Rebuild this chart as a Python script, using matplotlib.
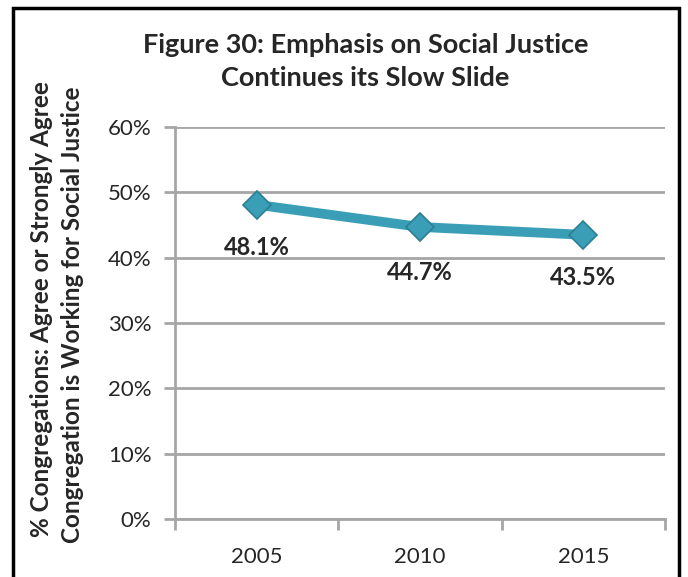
import numpy as np
import matplotlib.pyplot as plt
from matplotlib.patches import Rectangle

plt.rcParams['font.family'] = ['Lato', 'DejaVu Sans']

# data
years = ['2005', '2010', '2015']
pct = [48.1, 44.7, 43.5]
labels = ['48.1%', '44.7%', '43.5%']
yticks = [0, 10, 20, 30, 40, 50, 60]

line_col = '#3a9fb6'
grid_col = '#a6a6a6'
txt_col = '#262626'

fig = plt.figure(figsize=(6.88, 5.77), dpi=100)
ax = fig.add_axes([0.2544, 0.1005, 0.7122, 0.6794])

x = np.arange(len(years))
ax.plot(x, pct, color=line_col, lw=7, solid_capstyle='round', zorder=3)
ax.plot(x, pct, linestyle='none', marker='D', markersize=14,
        markerfacecolor=line_col, markeredgecolor='#2b7f92', markeredgewidth=1.2, zorder=4)

# data labels under the points
offs = [-6.6, -6.9, -6.6]
for xi, v, lab, o in zip(x, pct, labels, offs):
    ax.text(xi, v + o, lab, ha='center', va='center', fontsize=17,
            fontweight='bold', color=txt_col, zorder=5)

ax.set_xlim(-0.5, 2.5)
ax.set_ylim(0, 60)
ax.set_yticks(yticks)
ax.set_yticklabels([f'{t}%' for t in yticks], fontsize=16, color=txt_col)
ax.set_xticks(x)
ax.set_xticklabels(years, fontsize=16, color=txt_col)
ax.tick_params(axis='x', length=0, pad=20)
ax.tick_params(axis='y', length=8, width=2, color=grid_col, pad=9)

# minor ticks at category boundaries
ax.set_xticks([-0.5, 0.5, 1.5, 2.5], minor=True)
ax.tick_params(axis='x', which='minor', length=8, width=2, color=grid_col)

ax.grid(axis='y', color=grid_col, lw=2)
ax.set_axisbelow(True)
for s in ['top', 'right']:
    ax.spines[s].set_visible(False)
for s in ['left', 'bottom']:
    ax.spines[s].set_color(grid_col)
    ax.spines[s].set_linewidth(2)

fig.text(0.531, 0.922, 'Figure 30: Emphasis on Social Justice', ha='center', va='center',
         fontsize=19.5, fontweight='bold', color=txt_col)
fig.text(0.531, 0.865, 'Continues its Slow Slide', ha='center', va='center',
         fontsize=19.5, fontweight='bold', color=txt_col)

fig.text(0.061, 0.464, '% Congregations: Agree or Strongly Agree', rotation=90,
         ha='center', va='center', fontsize=17.5, fontweight='bold', color=txt_col)
fig.text(0.106, 0.454, 'Congregation is Working for Social Justice', rotation=90,
         ha='center', va='center', fontsize=17.5, fontweight='bold', color=txt_col)

# outer frame
fig.patches.append(Rectangle((0.0189, -0.05), 0.9680, 1.036, transform=fig.transFigure,
                             fill=False, edgecolor='black', lw=2.5))

fig.savefig('out.png', dpi=100)
